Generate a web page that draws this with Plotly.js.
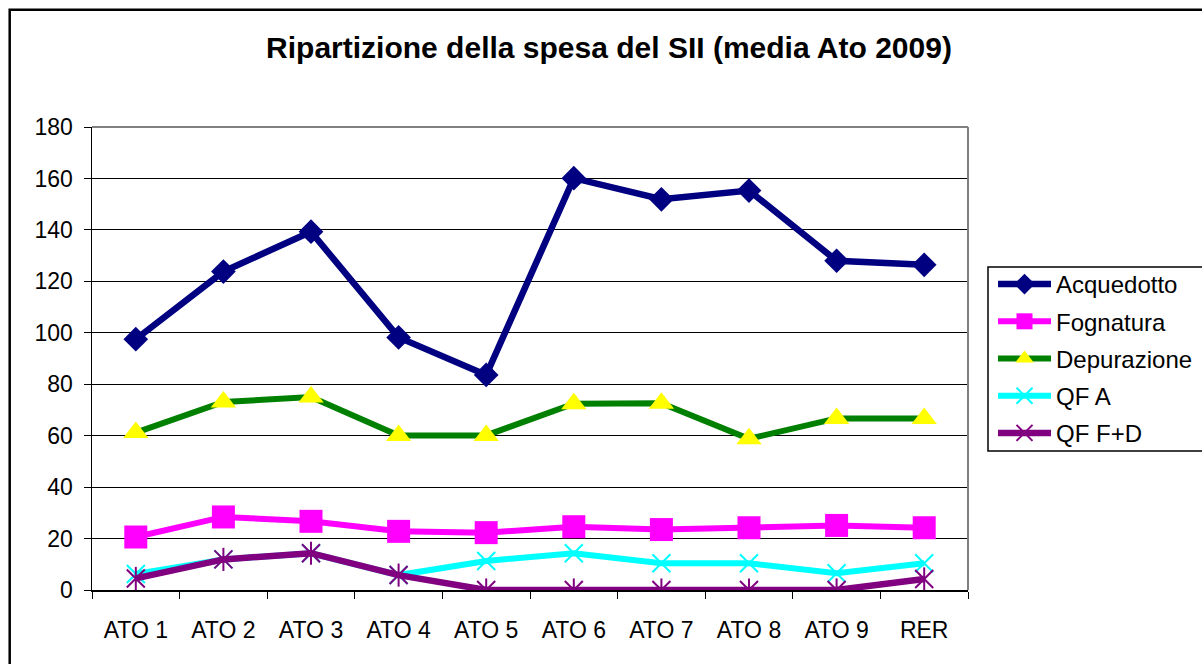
<!DOCTYPE html>
<html>
<head>
<meta charset="utf-8">
<script src="https://cdn.plot.ly/plotly-3.0.1.min.js"></script>
<style>html,body{margin:0;padding:0;background:#fff;}#chart{width:1202px;height:664px;}</style>
</head>
<body>
<div id="chart"></div>
<script>
var categories = ["ATO 1","ATO 2","ATO 3","ATO 4","ATO 5","ATO 6","ATO 7","ATO 8","ATO 9","RER"];
var acquedotto = [97.5, 123.8, 139.3, 98.2, 83.6, 160.1, 151.9, 155.3, 128.0, 126.4];
var fognatura = [20.6, 28.4, 26.7, 22.8, 22.3, 24.6, 23.5, 24.2, 25.1, 24.2];
var depurazione = [61.2, 73.1, 75.0, 60.1, 60.1, 72.4, 72.6, 58.8, 66.7, 66.7];
var qfA = [6.2, 11.9, 14.3, 5.8, 11.3, 14.3, 10.4, 10.4, 6.5, 10.4];
var qfFD = [4.5, 11.9, 14.3, 5.8, 0, 0, 0, 0, 0, 4.3];
var yTicks = [0,20,40,60,80,100,120,140,160,180];
var seriesNames = ["Acquedotto","Fognatura","Depurazione","QF A","QF F+D"];
var titleText = "Ripartizione della spesa del SII (media Ato 2009)";

var W = 1202, H = 664;
var L = 92, R = 234, T = 127, B = 74;
var pw = W - L - R, ph = H - T - B;
function px(x){ return (x - L) / pw; }
function py(y){ return (H - B - y) / ph; }

var traces = [
  {x: categories, y: acquedotto, name: seriesNames[0], type: 'scatter', mode: 'lines+markers', legendgroup: 'a',
   line: {color: '#000080', width: 6.5}, marker: {symbol: 'diamond', size: 19, color: '#000080'}},
  {x: categories, y: fognatura, name: seriesNames[1], type: 'scatter', mode: 'lines+markers', legendgroup: 'b',
   line: {color: '#FF00FF', width: 6}, marker: {symbol: 'square', size: 23, color: '#FF00FF'}},
  {x: categories, y: depurazione, name: seriesNames[2], type: 'scatter', mode: 'lines+markers', legendgroup: 'c',
   line: {color: '#008000', width: 6}, marker: {symbol: 'triangle-up', size: 22, color: '#FFFF00'}},
  {x: categories, y: qfA, name: seriesNames[3], type: 'scatter', mode: 'lines+markers', legendgroup: 'd',
   line: {color: '#00FFFF', width: 6}, marker: {symbol: 'x-thin-open', size: 18, color: '#00FFFF', line: {color: '#00FFFF', width: 2}}},
  {x: categories, y: qfFD, name: seriesNames[4], type: 'scatter', mode: 'lines+markers', legendgroup: 'e',
   line: {color: '#800080', width: 6.5}, marker: {symbol: 'x-thin-open', size: 18, color: '#800080', line: {color: '#800080', width: 2}}},
  {x: categories, y: qfFD, name: seriesNames[4], type: 'scatter', mode: 'markers', legendgroup: 'e', showlegend: false,
   marker: {symbol: 'line-ns-open', size: 16.5, color: '#800080', line: {color: '#800080', width: 2}}}
];

var layout = {
  width: W, height: H, autosize: false,
  margin: {l: L, r: R, t: T, b: B, pad: 0, autoexpand: false},
  paper_bgcolor: '#ffffff', plot_bgcolor: '#ffffff',
  font: {family: '"Liberation Sans", Arial, sans-serif', color: '#000000', size: 23},
  title: {text: '<b>' + titleText + '</b>', font: {size: 30, color: '#000000'},
          xref: 'container', yref: 'container', x: 609 / W, xanchor: 'center', y: 1 - 47 / H, yanchor: 'middle'},
  showlegend: true,
  legend: {x: px(993), y: py(262), xanchor: 'left', yanchor: 'top', bgcolor: 'rgba(0,0,0,0)',
           borderwidth: 0, font: {size: 24, color: '#000000'}, itemwidth: 53,
           traceorder: 'grouped', tracegroupgap: 3, itemclick: false},
  xaxis: {type: 'category', range: [-0.5, 9.5], tickson: 'boundaries', ticks: 'outside', ticklen: 7,
          tickcolor: '#000000', tickwidth: 1, showgrid: false, showline: true, linecolor: '#000000', linewidth: 1.5,
          zeroline: false, tickfont: {size: 23}, ticklabelstandoff: 19, fixedrange: true},
  yaxis: {range: [0, 180], tickvals: yTicks, ticktext: yTicks.map(String), ticks: 'outside', ticklen: 7,
          tickcolor: '#000000', tickwidth: 1, showgrid: true, gridcolor: '#000000', gridwidth: 1,
          showline: true, linecolor: '#000000', linewidth: 1.5, zeroline: false, tickfont: {size: 23},
          ticklabelstandoff: 6, fixedrange: true},
  shapes: [
    {type: 'line', xref: 'paper', yref: 'paper', x0: 0, x1: 1, y0: 1, y1: 1, line: {color: '#808080', width: 2}, layer: 'above'},
    {type: 'line', xref: 'paper', yref: 'paper', x0: 1, x1: 1, y0: 0, y1: 1, line: {color: '#808080', width: 2}, layer: 'above'},
    {type: 'rect', xref: 'paper', yref: 'paper', x0: px(988), x1: px(1220), y0: py(451), y1: py(267),
     line: {color: '#000000', width: 1.5}, fillcolor: 'rgba(0,0,0,0)', layer: 'above'},
    {type: 'rect', xref: 'paper', yref: 'paper', x0: px(9.7), x1: px(1225), y0: py(690), y1: py(9.7),
     line: {color: '#000000', width: 2.5}, fillcolor: 'rgba(0,0,0,0)', layer: 'above'}
  ]
};

Plotly.newPlot('chart', traces, layout, {displayModeBar: false, staticPlot: true});
</script>
</body>
</html>
